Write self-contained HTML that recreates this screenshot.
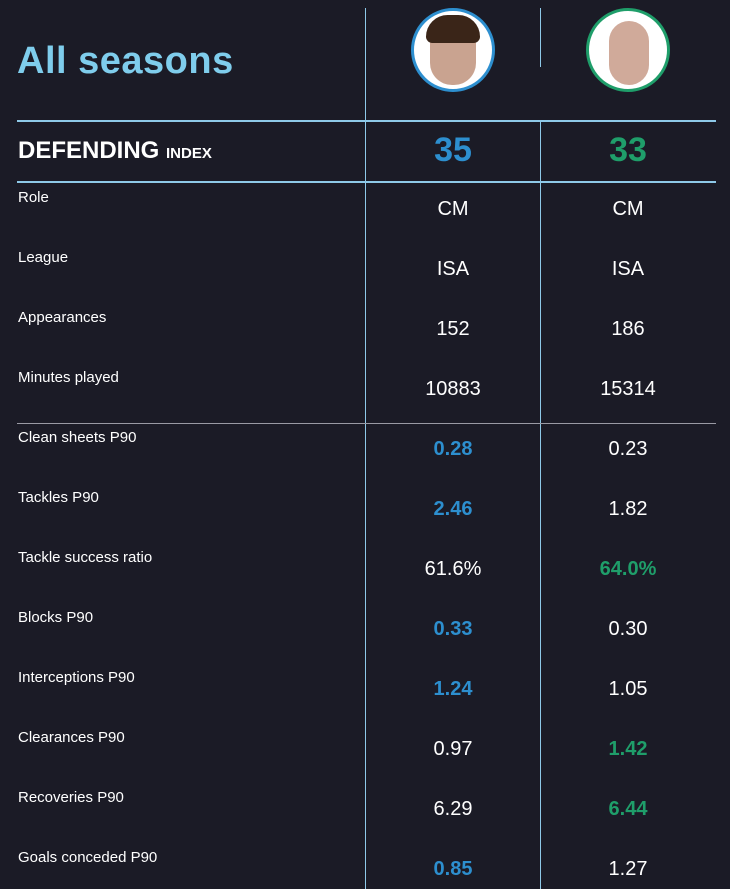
<!DOCTYPE html>
<html><head><meta charset="utf-8"><style>
body{margin:0;width:730px;height:889px;background:#1b1b26;overflow:hidden;font-family:"Liberation Sans",sans-serif;color:#fff;position:relative}
.a{position:absolute}
.lbl{position:absolute;left:18px;font-size:15px;color:#fff}
.v{position:absolute;width:120px;text-align:center;font-size:20px;color:#fff}
.b{color:#2d8fcf;font-weight:bold}
.g{color:#1f9e6a;font-weight:bold}
</style></head><body>
<div class="a" style="left:17px;top:40px;font-size:38px;font-weight:bold;color:#7fcdec;letter-spacing:0.5px">All seasons</div>
<div class="a" style="left:365px;top:8px;width:1px;height:881px;background:#8ec9e8"></div>
<div class="a" style="left:540px;top:8px;width:1px;height:59px;background:#8ec9e8"></div>
<div class="a" style="left:540px;top:121px;width:1px;height:768px;background:#8ec9e8"></div>
<div class="a" style="left:17px;top:120px;width:699px;height:2px;background:#8ec9e8"></div>
<div class="a" style="left:17px;top:181px;width:699px;height:2px;background:#8ec9e8"></div>
<div class="a" style="left:17px;top:423px;width:699px;height:1px;background:#9a9aa4"></div>
<div class="a" style="left:411px;top:8px;width:78px;height:78px;border:3px solid #2d8fcf;border-radius:50%;background:#fff;overflow:hidden"><div style="position:absolute;left:16px;top:10px;width:46px;height:64px;border-radius:22px;background:#c9a390"></div><div style="position:absolute;left:12px;top:4px;width:54px;height:28px;border-radius:27px 27px 8px 8px;background:#3a2518"></div></div>
<div class="a" style="left:586px;top:8px;width:78px;height:78px;border:3px solid #1f9e6a;border-radius:50%;background:#fff;overflow:hidden"><div style="position:absolute;left:20px;top:10px;width:40px;height:64px;border-radius:20px;background:#d0aa9a"></div></div>
<div class="a" style="left:18px;top:137px;font-size:24px;font-weight:bold">DEFENDING <span style="font-size:15px">INDEX</span></div>
<div class="v b" style="left:393px;top:131px;font-size:34px">35</div>
<div class="v g" style="left:568px;top:131px;font-size:34px">33</div>
<div id="rows"></div>
<script>
const labels=["Role","League","Appearances","Minutes played","Clean sheets P90","Tackles P90","Tackle success ratio","Blocks P90","Interceptions P90","Clearances P90","Recoveries P90","Goals conceded P90"];
const p1=["CM","ISA","152","10883","0.28","2.46","61.6%","0.33","1.24","0.97","6.29","0.85"];
const p2=["CM","ISA","186","15314","0.23","1.82","64.0%","0.30","1.05","1.42","6.44","1.27"];
const win=[0,0,0,0,1,1,2,1,1,2,2,1];
const r=document.getElementById('rows');
labels.forEach((l,i)=>{
 const y=189+i*60;
 const d=document.createElement('div');d.className='lbl';d.style.top=y+'px';d.textContent=l;
 
 
 r.appendChild(d);
 [[p1,393,1],[p2,568,2]].forEach(([arr,x,k])=>{
  const e=document.createElement('div');
  e.className='v'+(win[i]===k?(k===1?' b':' g'):'');
  e.style.left=x+'px';e.style.top=(y+9)+'px';e.textContent=arr[i];
  
  
  r.appendChild(e);
 });
});
</script>
</body></html>
